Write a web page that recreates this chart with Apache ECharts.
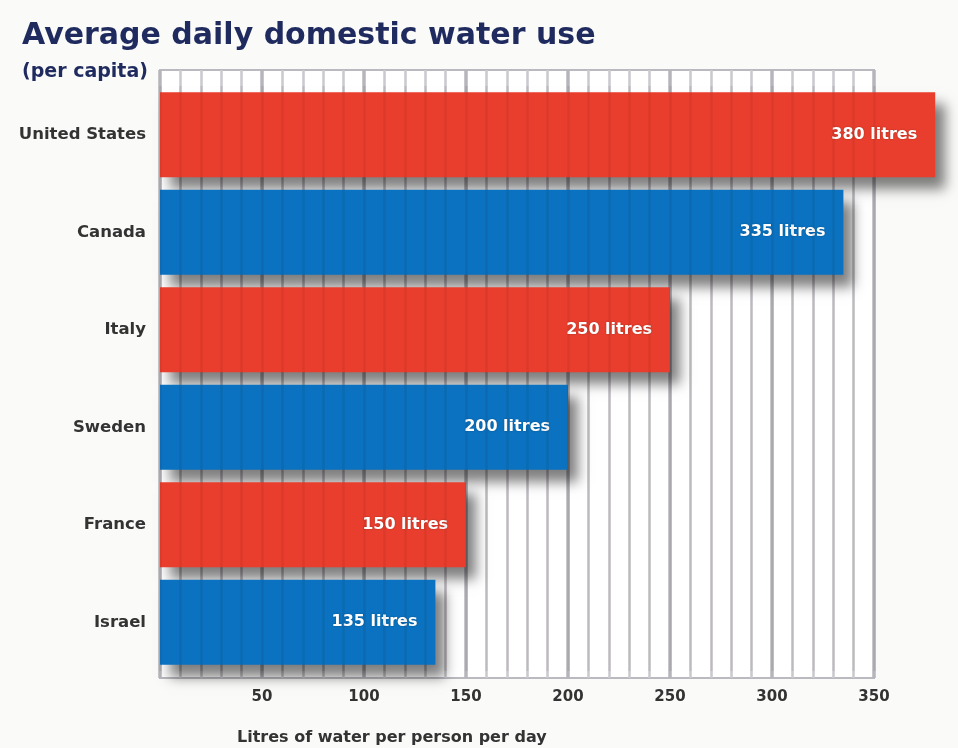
<!DOCTYPE html>
<html>
<head>
<meta charset="utf-8">
<script src="https://cdn.jsdelivr.net/npm/echarts@6/dist/echarts.min.js"></script>
<style>
  html, body { margin: 0; padding: 0; background: #fafaf8; }
  #chart { width: 958px; height: 748px; }
</style>
</head>
<body>
<div id="chart"></div>
<script>
const categories = ['United States', 'Canada', 'Italy', 'Sweden', 'France', 'Israel'];
const values = [380, 335, 250, 200, 150, 135];
const valueLabels = ['380 litres', '335 litres', '250 litres', '200 litres', '150 litres', '135 litres'];
const xTicks = [0, 50, 100, 150, 200, 250, 300, 350];
const titleText = 'Average daily domestic water use';
const subtitleText = '(per capita)';
const xAxisName = 'Litres of water per person per day';

const RED = '#e93e2d';
const BLUE = '#0a72c0';
const FONT = '"DejaVu Sans", Verdana, sans-serif';

const chart = echarts.init(document.getElementById('chart'), null, { renderer: 'canvas' });

const option = {
  backgroundColor: '#fafaf8',
  animation: false,
  title: [
    { text: titleText, left: 17, top: 16,
      textStyle: { fontFamily: FONT, fontSize: 30, fontWeight: 'bold', color: '#1f2a5e' } },
    { text: subtitleText, left: 17, top: 58,
      textStyle: { fontFamily: FONT, fontSize: 19, fontWeight: 'bold', color: '#1f2a5e' } },
    { text: xAxisName, left: 232, top: 725,
      textStyle: { fontFamily: FONT, fontSize: 16, fontWeight: 'bold', color: '#333333' } }
  ],
  grid: [
    { left: 160, right: 84, top: 70, bottom: 70, show: true,
      backgroundColor: '#ffffff', borderColor: '#b9b9bf', borderWidth: 2 },
    { left: 160, right: 84, top: 86, height: 585 }
  ],
  xAxis: [
    { gridIndex: 0, type: 'value', min: xTicks[0], max: xTicks[xTicks.length - 1], interval: 50,
      axisLine: { show: false }, axisTick: { show: false },
      axisLabel: { margin: 12, fontFamily: FONT, fontSize: 15, fontWeight: 'bold', color: '#333333',
        formatter: v => (v === 0 ? '' : String(v)) },
      splitLine: { show: true, lineStyle: { color: '#b5b5bb', width: 3.5 } },
      minorTick: { show: false, splitNumber: 5 },
      minorSplitLine: { show: true, lineStyle: { color: '#c9c9ce', width: 2.5 } } },
    { gridIndex: 1, type: 'value', min: xTicks[0], max: xTicks[xTicks.length - 1], interval: 10,
      show: true, z: 5,
      axisLine: { show: false }, axisTick: { show: false }, axisLabel: { show: false },
      splitLine: { show: true, lineStyle: { color: 'rgba(40,0,0,0.07)', width: 2.5 } } }
  ],
  yAxis: [
    { gridIndex: 0, type: 'value', show: false, min: 0, max: 1, splitLine: { show: false } },
    { gridIndex: 1, type: 'category', data: categories, inverse: true,
      axisLine: { show: false }, axisTick: { show: false },
      axisLabel: { margin: 14, fontFamily: FONT, fontSize: 16.5, fontWeight: 'bold', color: '#333333' } }
  ],
  series: [
    {
      type: 'bar',
      xAxisIndex: 1, yAxisIndex: 1,
      data: values,
      barWidth: 85,
      clip: false,
      z: 2,
      itemStyle: {
        color: p => (p.dataIndex % 2 === 0 ? RED : BLUE),
        shadowColor: 'rgba(0,0,0,0.5)',
        shadowBlur: 12,
        shadowOffsetX: 10,
        shadowOffsetY: 12
      },
      label: {
        show: true,
        position: 'insideRight',
        distance: 18,
        formatter: p => valueLabels[p.dataIndex],
        fontFamily: FONT, fontSize: 16, fontWeight: 'bold', color: '#ffffff',
        textShadowColor: 'rgba(0,0,0,0.3)', textShadowBlur: 2
      }
    }
  ]
};

chart.setOption(option);
</script>
</body>
</html>
